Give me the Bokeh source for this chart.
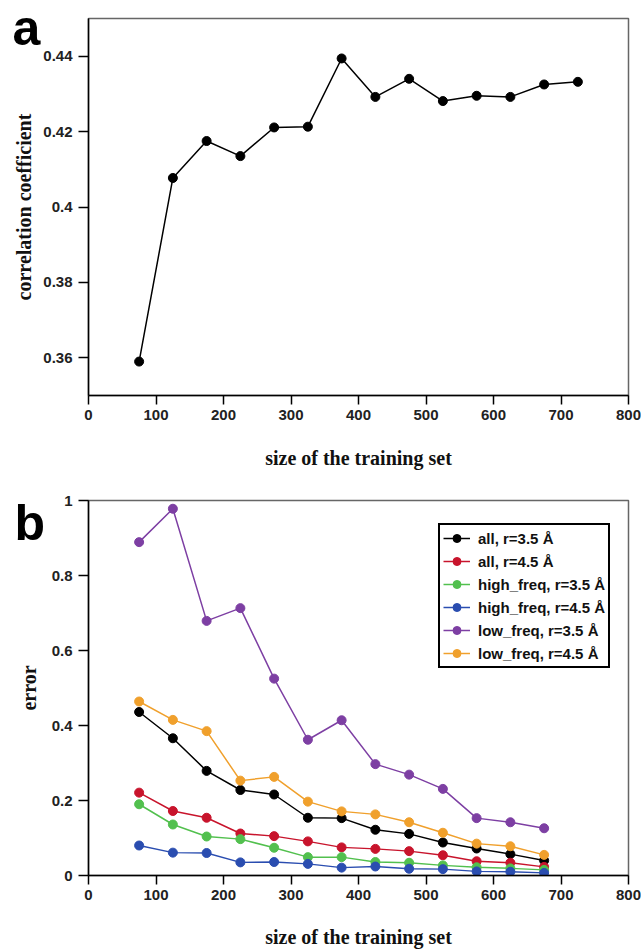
from bokeh.plotting import figure
from bokeh.layouts import column
from bokeh.models import (Range1d, FixedTicker, CustomJSTickFormatter, Title,
                          Legend, LegendItem)
from bokeh.embed import file_html
from bokeh.resources import INLINE

# ---------------- data ----------------
# panel a
size_a = [75, 125, 175, 225, 275, 325, 375, 425, 475, 525, 575, 625, 675, 725]
corr_coef = [0.359, 0.4077, 0.4175, 0.4135, 0.4211, 0.4213, 0.4394, 0.4292,
             0.4340, 0.4281, 0.4295, 0.4292, 0.4325, 0.4332]

# panel b
size_b = [75, 125, 175, 225, 275, 325, 375, 425, 475, 525, 575, 625, 675]
err_all_35 = [0.436, 0.366, 0.279, 0.228, 0.216, 0.154, 0.153, 0.122, 0.111,
              0.088, 0.072, 0.057, 0.040]
err_all_45 = [0.221, 0.172, 0.154, 0.112, 0.105, 0.091, 0.075, 0.071, 0.065,
              0.054, 0.038, 0.034, 0.023]
err_high_35 = [0.190, 0.136, 0.104, 0.097, 0.074, 0.049, 0.049, 0.036, 0.034,
               0.027, 0.022, 0.019, 0.015]
err_high_45 = [0.080, 0.061, 0.060, 0.035, 0.036, 0.031, 0.021, 0.024, 0.018,
               0.017, 0.011, 0.010, 0.007]
err_low_35 = [0.889, 0.978, 0.679, 0.713, 0.525, 0.362, 0.414, 0.297, 0.269,
              0.231, 0.153, 0.142, 0.126]
err_low_45 = [0.464, 0.415, 0.385, 0.253, 0.263, 0.197, 0.171, 0.163, 0.142,
              0.114, 0.085, 0.078, 0.055]

series_names = ["all, r=3.5 Å", "all, r=4.5 Å", "high_freq, r=3.5 Å",
                "high_freq, r=4.5 Å", "low_freq, r=3.5 Å", "low_freq, r=4.5 Å"]
series_values = [err_all_35, err_all_45, err_high_35, err_high_45,
                 err_low_35, err_low_45]

x_ticks = [0, 100, 200, 300, 400, 500, 600, 700, 800]
y_ticks_a = [0.36, 0.38, 0.40, 0.42, 0.44]
y_ticks_b = [0, 0.2, 0.4, 0.6, 0.8, 1]

# ---------------- styles ----------------
COLORS = ["#000000", "#c8142c", "#52c04e", "#2a4db0", "#7d3fa3", "#f0a02c"]
SANS = "Liberation Sans"
SERIF = "Liberation Serif"

fmt = CustomJSTickFormatter(code="return String(Math.round(tick*1000)/1000);")


def style(p, ylabel, yticks, ylab_standoff, xlab_standoff):
    p.grid.visible = False
    p.outline_line_color = "#666666"
    p.outline_line_width = 1.5
    p.background_fill_color = "white"
    p.border_fill_color = "white"
    for ax in (p.xaxis[0], p.yaxis[0]):
        ax.axis_line_color = "black"
        ax.axis_line_width = 1.5
        ax.major_tick_line_color = "black"
        ax.major_tick_line_width = 1.5
        ax.major_tick_in = 0
        ax.minor_tick_in = 0
        ax.minor_tick_out = 0
        ax.major_label_text_font = SANS
        ax.major_label_text_font_style = "bold"
        ax.major_label_text_font_size = "15px"
        ax.major_label_text_color = "#222222"
        ax.axis_label_text_font = SERIF
        ax.axis_label_text_font_style = "bold"
        ax.axis_label_text_font_size = "20px"
        ax.axis_label_text_color = "#111111"
        ax.formatter = fmt
    p.xaxis[0].ticker = FixedTicker(ticks=x_ticks)
    p.yaxis[0].ticker = FixedTicker(ticks=yticks)
    p.xaxis[0].major_tick_out = 9
    p.yaxis[0].major_tick_out = 10
    p.xaxis[0].major_label_standoff = 5
    p.yaxis[0].major_label_standoff = 6
    p.xaxis[0].axis_label = "size of the training set"
    p.yaxis[0].axis_label = ylabel
    p.xaxis[0].axis_label_standoff = xlab_standoff
    p.yaxis[0].axis_label_standoff = ylab_standoff


def panel_letter(text, offset, standoff):
    return Title(text=text, align="left", offset=offset, standoff=standoff,
                 vertical_align="bottom", text_font=SANS,
                 text_font_style="bold", text_font_size="50px",
                 text_color="black")


# ---------------- panel a ----------------
pa = figure(width=641, height=482, output_backend="svg", toolbar_location=None,
            x_range=Range1d(0, 800), y_range=Range1d(0.35, 0.45),
            min_border_left=88, min_border_right=13, min_border_top=18,
            min_border_bottom=87)
style(pa, "correlation coefficient", y_ticks_a, 5, 24)
pa.line(size_a, corr_coef, line_color="black", line_width=1.5)
pa.scatter(size_a, corr_coef, size=9, color="black")
pa.add_layout(panel_letter("a", -76, -75), "above")

# ---------------- panel b ----------------
pb = figure(width=641, height=468, output_backend="svg", toolbar_location=None,
            x_range=Range1d(0, 800), y_range=Range1d(0, 1),
            min_border_left=88, min_border_right=13, min_border_top=18,
            min_border_bottom=73)
style(pb, "error", y_ticks_b, 9, 23)

items = []
for name, vals, col in zip(series_names, series_values, COLORS):
    r1 = pb.line(size_b, vals, line_color=col, line_width=1.5)
    r2 = pb.scatter(size_b, vals, size=9, color=col)
    items.append(LegendItem(label=name, renderers=[r1, r2]))

legend = Legend(items=items, location=(350, 207), padding=3, spacing=3,
                label_height=20, glyph_height=20, glyph_width=27,
                label_standoff=8, margin=0,
                label_text_font=SANS, label_text_font_style="bold",
                label_text_font_size="15px", label_text_color="#111111",
                border_line_color="black", border_line_width=2,
                border_line_alpha=1.0,
                background_fill_color="white", background_fill_alpha=1)
pb.add_layout(legend, "center")
pb.add_layout(panel_letter("b", -74, -101), "above")

layout = column(pa, pb, spacing=0)
open("out.html", "w").write(file_html(layout, INLINE))
